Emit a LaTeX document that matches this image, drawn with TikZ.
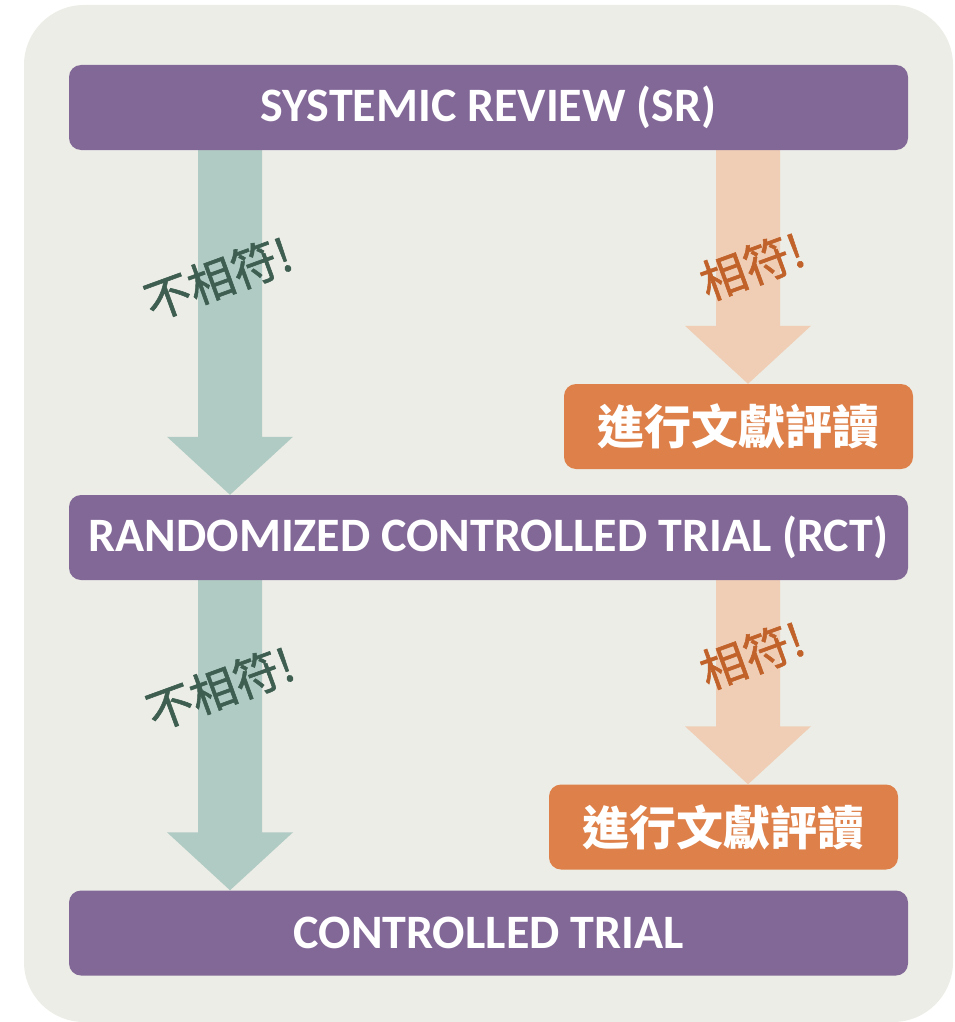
\documentclass[tikz,border=0pt]{standalone}
\usepackage{fontspec}
\setmainfont{Carlito}
\newfontfamily\cjk{Noto Sans CJK TC}
\newfontfamily\cjkmed[FakeBold=1.2]{Noto Sans CJK TC}
\usetikzlibrary{calc,backgrounds}
\definecolor{bgc}{HTML}{ECEDE6}
\definecolor{purp}{HTML}{826897}
\definecolor{grn}{HTML}{B0CBC4}
\definecolor{grntxt}{HTML}{3D5E50}
\definecolor{orarr}{HTML}{F0CDB5}
\definecolor{ortxt}{HTML}{C0622A}
\definecolor{orbox}{HTML}{DE8049}
\newcommand\blkarrow[3]{%
  \fill[#1] ($(#2)+(-32,0)$) -- ($(#3)+(-32,-58)$) -- ($(#3)+(-63,-58)$) -- (#3)
    -- ($(#3)+(63,-58)$) -- ($(#3)+(32,-58)$) -- ($(#2)+(32,0)$) -- cycle;}
\tikzset{
  purplebox/.style={fill=purp, rounded corners=12pt, minimum width=839pt, minimum height=85pt,
    text=white, font=\fontsize{48}{52}\selectfont\bfseries, inner sep=0pt},
  orangebox/.style={fill=orbox, rounded corners=12pt, minimum width=349pt, minimum height=85pt,
    text=white, font=\fontsize{47}{50}\selectfont\cjk\bfseries, inner sep=0pt},
  nomatch/.style={text=grntxt, rotate=20, font=\fontsize{46}{50}\selectfont\cjkmed, inner sep=0pt},
  match/.style={text=ortxt, rotate=20, font=\fontsize{46}{50}\selectfont\cjkmed, inner sep=0pt}
}
\begin{document}
\begin{tikzpicture}[x=1pt,y=-1pt]
\useasboundingbox (0,0) rectangle (955,1022);
\begin{pgfonlayer}{background}
\fill[bgc, rounded corners=60pt] (24,5) rectangle (953,1022);
\end{pgfonlayer}
% x positions of arrows
\coordinate (gx) at (230,0);
\coordinate (ox) at (748,0);
% boxes
\node[purplebox] (sr) at (488.5,107.5) {SYSTEMIC REVIEW (SR)};
\node[purplebox] (rct) at (488.5,537.5) {RANDOMIZED CONTROLLED TRIAL (RCT)};
\node[purplebox] (ct) at (488.5,933) {CONTROLLED TRIAL};
\node[orangebox] (cr1) at (738.5,426.5) {進行文獻評讀};
\node[orangebox] (cr2) at (723.5,827) {進行文獻評讀};
% arrow endpoints
\coordinate (g1s) at (sr.south -| gx);
\coordinate (g1e) at (rct.north -| gx);
\coordinate (g2s) at (rct.south -| gx);
\coordinate (g2e) at (ct.north -| gx);
\coordinate (o1s) at (sr.south -| ox);
\coordinate (o1e) at (cr1.north -| ox);
\coordinate (o2s) at (rct.south -| ox);
\coordinate (o2e) at (cr2.north -| ox);
\begin{pgfonlayer}{background}
\blkarrow{grn}{g1s}{g1e}
\blkarrow{grn}{g2s}{g2e}
\blkarrow{orarr}{o1s}{o1e}
\blkarrow{orarr}{o2s}{o2e}
\end{pgfonlayer}
% labels
\node[nomatch] (n1) at (218,278) {不相符!};
\node[nomatch] (n2) at (220,688) {不相符!};
\node[match] (m1) at (752,266) {相符!};
\node[match] (m2) at (752,655) {相符!};
\end{tikzpicture}
\end{document}
